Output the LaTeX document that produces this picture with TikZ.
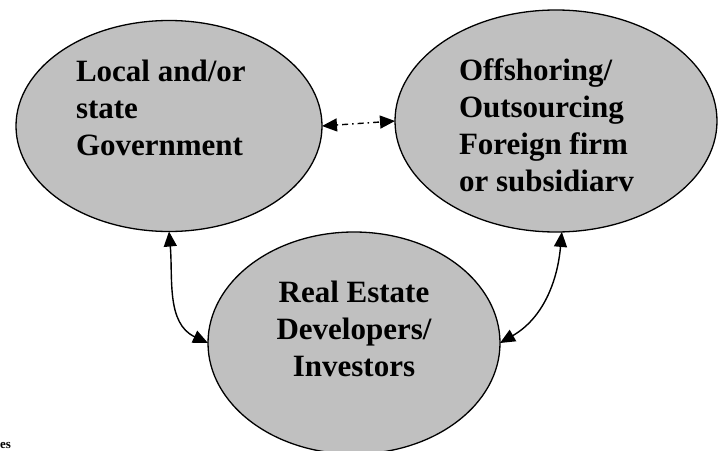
\documentclass[tikz,border=0pt]{standalone}
\usepackage{fontspec}
\setmainfont{Liberation Serif}
\usetikzlibrary{shapes.geometric,arrows.meta}

\definecolor{bubblegray}{HTML}{C0C0C0}

\tikzset{
  bubble/.style={ellipse, draw=black, line width=1.3pt, fill=bubblegray,
                 inner sep=0pt, outer sep=0pt},
  bubbletext/.style={inner sep=0pt, outer sep=0pt,
                 font=\bfseries\fontsize{31}{37}\selectfont},
  link/.style={line width=1.4pt,
               {Triangle[length=15pt,width=13pt]}-{Triangle[length=15pt,width=13pt]}},
}

\begin{document}
\begin{tikzpicture}[x=1pt, y=-1pt]
  \useasboundingbox (0,0) rectangle (720,450);
  \clip (0,0) rectangle (720,450);

  % the three parties
  \node[bubble, minimum width=306pt, minimum height=211pt] (gov) at (169,126) {};
  \node[bubble, minimum width=322pt, minimum height=222pt] (firm) at (556,121) {};
  \node[bubble, minimum width=292pt, minimum height=222pt] (dev) at (354,343) {};

  % labels inside the ellipses
  \node[bubbletext, anchor=north west, align=left] (govtext) at (76,60)
    {Local and/or\\state\\Government};
  \node[bubbletext, anchor=north west, align=left] (firmtext) at (459,59)
    {Offshoring/\\Outsourcing\\Foreign firm\\or subsidiarv};
  \node[bubbletext, anchor=north, align=center] (devtext) at (354,281)
    {Real Estate\\Developers/\\Investors};

  % relations between the parties
  \draw[link, dash pattern=on 1.5pt off 4pt on 6pt off 4pt] (gov.east) -- (firm.west);
  \draw[link] (gov.south) to[out=-85, in=155] (dev.west);
  \draw[link] (firm.-87) to[out=-95, in=30] (dev.east);

  % small caption text in the lower left corner
  \node[inner sep=0pt, anchor=base west, font=\bfseries\fontsize{13}{15}\selectfont]
    (frag) at (0,448) {es};
\end{tikzpicture}
\end{document}
